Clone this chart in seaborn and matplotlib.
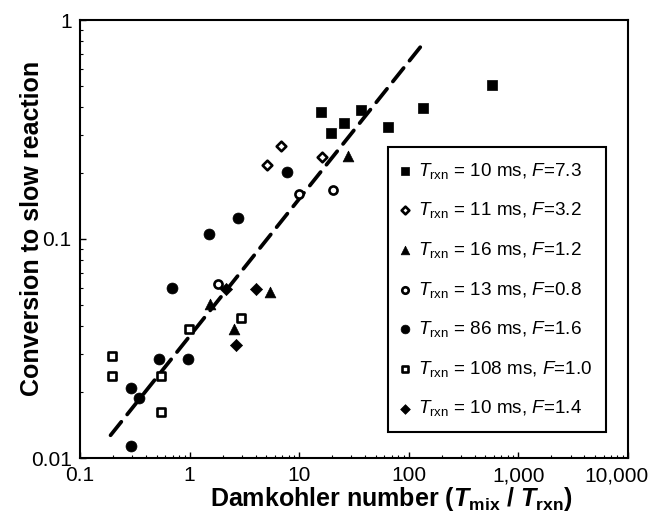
import matplotlib
matplotlib.use("Agg")
import matplotlib.pyplot as plt
import matplotlib.transforms as mtransforms
import seaborn as sns
import pandas as pd
from matplotlib.ticker import FixedLocator, FixedFormatter, LogLocator, NullFormatter

sns.set_theme(style="white")
plt.rcParams['font.family'] = ['Liberation Sans', 'DejaVu Sans']
plt.rcParams['text.color'] = 'black'
plt.rcParams['axes.labelcolor'] = 'black'
plt.rcParams['xtick.color'] = 'black'
plt.rcParams['ytick.color'] = 'black'
plt.rcParams['mathtext.fontset'] = 'custom'
plt.rcParams['mathtext.rm'] = 'Liberation Sans'
plt.rcParams['mathtext.it'] = 'Liberation Sans:italic'
plt.rcParams['mathtext.bf'] = 'Liberation Sans:bold'
plt.rcParams['mathtext.bfit'] = 'Liberation Sans:italic:bold'

# ---- data ----
sq_x = [15.7, 19.4, 25.7, 36.4, 64.4, 134, 580]
sq_y = [0.382, 0.304, 0.338, 0.389, 0.323, 0.398, 0.507]

od_x = [5.07, 6.82, 16.3]
od_y = [0.218, 0.267, 0.238]

tr_x = [28.1, 5.37, 2.52, 1.52]
tr_y = [0.240, 0.0574, 0.0390, 0.0506]

oc_x = [1.82, 10.0, 20.4]
oc_y = [0.0624, 0.160, 0.167]

fc_x = [1.50, 2.75, 7.67, 0.694, 0.528, 0.965, 0.290, 0.349, 0.290]
fc_y = [0.105, 0.125, 0.202, 0.0598, 0.0282, 0.0282, 0.0209, 0.0187, 0.01137]

os_x = [0.194, 0.194, 0.551, 0.553, 0.985, 2.94]
os_y = [0.0291, 0.0237, 0.0237, 0.0162, 0.0390, 0.0435]

fd_x = [4.04, 2.65, 2.17]
fd_y = [0.0593, 0.0328, 0.0593]

fit_x = [0.19, 135]
fit_y = [0.0127, 0.78]

labels = [
    r'$T_{\rm rxn}$ = 10 ms, $F$=7.3',
    r'$T_{\rm rxn}$ = 11 ms, $F$=3.2',
    r'$T_{\rm rxn}$ = 16 ms, $F$=1.2',
    r'$T_{\rm rxn}$ = 13 ms, $F$=0.8',
    r'$T_{\rm rxn}$ = 86 ms, $F$=1.6',
    r'$T_{\rm rxn}$ = 108 ms, $F$=1.0',
    r'$T_{\rm rxn}$ = 10 ms, $F$=1.4',
]

x_ticks = [0.1, 1, 10, 100, 1000, 10000]
x_ticklabels = ['0.1', '1', '10', '100', '1,000', '10,000']
y_ticks = [0.01, 0.1, 1]
y_ticklabels = ['0.01', '0.1', '1']

series = [
    (sq_x, sq_y, 's', True, 50),
    (od_x, od_y, 'D', False, 24),
    (tr_x, tr_y, '^', True, 60),
    (oc_x, oc_y, 'o', False, 34),
    (fc_x, fc_y, 'o', True, 62),
    (os_x, os_y, 's', False, 34),
    (fd_x, fd_y, 'D', True, 38),
]

fig = plt.figure(figsize=(6.53, 5.18), dpi=100)
ax = fig.add_axes([80/653, 1 - 458/518, 548/653, 438/518])

fit_df = pd.DataFrame({'x': fit_x, 'y': fit_y})
sns.lineplot(data=fit_df, x='x', y='y', ax=ax, color='black', lw=2.7,
             dashes=False, legend=False)
ax.lines[-1].set_dashes([4.6, 2.5])
ax.lines[-1].set_dash_capstyle('round')

for (xs, ys, m, filled, s), lab in zip(series, labels):
    df = pd.DataFrame({'x': xs, 'y': ys})
    sns.scatterplot(data=df, x='x', y='y', ax=ax, marker=m, s=s,
                    facecolor='black' if filled else 'white',
                    edgecolor='black', linewidth=1.9 if not filled else 0.5,
                    label=lab, zorder=3)

ax.set_xscale('log')
ax.set_yscale('log')
ax.set_xlim(0.1, 10000)
ax.set_ylim(0.01, 1)

ax.xaxis.set_major_locator(FixedLocator(x_ticks))
ax.xaxis.set_major_formatter(FixedFormatter(x_ticklabels))
ax.yaxis.set_major_locator(FixedLocator(y_ticks))
ax.yaxis.set_major_formatter(FixedFormatter(y_ticklabels))
ax.xaxis.set_minor_locator(LogLocator(base=10, subs=range(2, 10), numticks=20))
ax.yaxis.set_minor_locator(LogLocator(base=10, subs=range(2, 10), numticks=20))
ax.xaxis.set_minor_formatter(NullFormatter())
ax.yaxis.set_minor_formatter(NullFormatter())
ax.tick_params(which='major', direction='in', length=4, width=1, labelsize=15,
               colors='black', labelcolor='black', bottom=True, left=True, pad=6)
ax.tick_params(which='minor', direction='in', length=2.5, width=0.8,
               colors='black', bottom=True, left=True)

# keep the last x tick label inside the figure, as in the reference
last = ax.get_xticklabels()[-1]
last.set_transform(last.get_transform() +
                   mtransforms.ScaledTranslation(-12/100, 0, fig.dpi_scale_trans))

for sp in ax.spines.values():
    sp.set_color('black')
    sp.set_linewidth(1.5)

ax.set_xlabel(r'Damkohler number ($\mathbfit{T}_{\mathbf{mix}}$ / $\mathbfit{T}_{\mathbf{rxn}}$)',
              fontsize=18, fontweight='bold', color='black')
ax.xaxis.set_label_coords(0.568, -0.062)
ax.set_ylabel('Conversion to slow reaction', fontsize=18, fontweight='bold',
              color='black')
ax.yaxis.set_label_coords(-0.066, 0.525)

leg = ax.legend(loc='upper left', bbox_to_anchor=(0.562, 0.710), fontsize=13.6,
                frameon=True, fancybox=False, edgecolor='black', framealpha=1,
                labelspacing=1.04, handletextpad=0.45, handlelength=0.4,
                borderpad=0.72, borderaxespad=0, markerscale=0.8)
leg.get_frame().set_linewidth(1.5)
for t in leg.get_texts():
    t.set_color('black')

fig.savefig('out.png', dpi=100)
